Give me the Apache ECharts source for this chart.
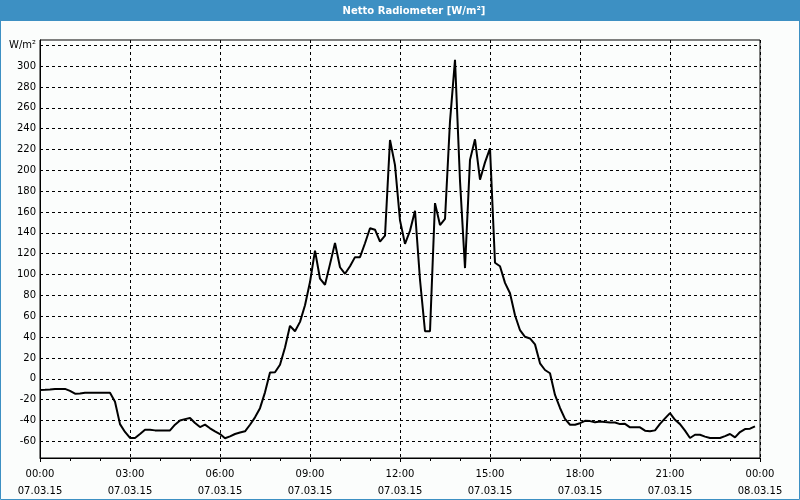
<!DOCTYPE html>
<html>
<head>
<meta charset="utf-8">
<script src="https://cdn.jsdelivr.net/npm/echarts@6/dist/echarts.min.js"></script>
<style>
  html, body { margin: 0; padding: 0; background: #fbfdfc; }
  #chart { width: 800px; height: 500px; }
</style>
</head>
<body>
<div id="chart"></div>
<script>
// ---- data (10-minute samples starting 07.03.15 00:00) ----
const chartTitle = 'Netto Radiometer [W/m²]';
const yUnit = 'W/m²';
const sampleStepMinutes = 10;
const netRadiation = [
  -10.7, -10.5, -10.2, -9.7, -9.7, -9.7, -11.6, -14.3, -14.2, -13.5,
  -13.5, -13.5, -13.5, -13.5, -13.5, -22, -43.5, -51, -56.8, -56.8,
  -53, -49, -49, -49.5, -49.5, -49.5, -49.5, -44, -40, -38.7,
  -37.7, -42.5, -46.3, -44, -47.5, -50.5, -53, -57, -55.3, -53,
  -51.5, -50.4, -44.1, -37, -28.2, -13, 6, 6.2, 13.5, 30,
  50.8, 45.6, 54.6, 70.5, 92.8, 123, 96, 90.2, 110, 130.2,
  107, 100.7, 108, 116.7, 116.7, 130, 144.4, 143, 131.6, 137.3,
  229, 205, 152, 129.4, 142, 161.2, 95, 45.6, 45.6, 168.5,
  147.5, 153.3, 247, 306, 190, 106.2, 210, 229.7, 191, 207.6,
  221, 111.3, 108, 92, 82, 61, 46.6, 40.3, 38.7, 33,
  14.8, 8.4, 5.3, -15.5, -28, -38.5, -44.1, -44.1, -42.6, -40.3,
  -40.6, -41.8, -40.9, -41.5, -41.9, -41.9, -43.5, -43.2, -46.6, -46.6,
  -46.6, -49.8, -50.4, -49.5, -43.2, -38, -33, -39.4, -43.5, -49.8,
  -56.8, -53.7, -53.7, -55.5, -56.8, -56.8, -56.8, -55, -53, -56.2,
  -51.1, -48.2, -47.9, -45.6
];
const xTickMinutes = [0, 180, 360, 540, 720, 900, 1080, 1260, 1440];
const xTickTimes = ['00:00', '03:00', '06:00', '09:00', '12:00', '15:00', '18:00', '21:00', '00:00'];
const xTickDates = ['07.03.15', '07.03.15', '07.03.15', '07.03.15', '07.03.15', '07.03.15', '07.03.15', '07.03.15', '08.03.15'];
const yTickValues = [-60, -40, -20, 0, 20, 40, 60, 80, 100, 120, 140, 160, 180, 200, 220, 240, 260, 280, 300, 320];

const seriesData = netRadiation.map((v, i) => [i * sampleStepMinutes, v]);

const chart = echarts.init(document.getElementById('chart'), null, { renderer: 'canvas' });
const labelFont = '"DejaVu Sans", Tahoma, sans-serif';

chart.setOption({
  animation: false,
  backgroundColor: '#fbfdfc',
  graphic: [
    { type: 'rect', shape: { x: 0, y: 0, width: 800, height: 21 }, style: { fill: '#3d90c3' }, silent: true },
    { type: 'rect', shape: { x: 0.5, y: 0.5, width: 799, height: 499 }, style: { fill: null, stroke: '#3d90c3', lineWidth: 1 }, silent: true },
    { type: 'text', x: 414, y: 11, style: { text: chartTitle, fill: '#ffffff', font: 'bold 10px "DejaVu Sans", Tahoma, sans-serif', textAlign: 'center', textVerticalAlign: 'middle' }, silent: true }
  ],
  grid: {
    left: 40, right: 40, top: 40, bottom: 40,
    show: true, borderColor: '#000', borderWidth: 1, backgroundColor: 'transparent'
  },
  xAxis: {
    type: 'value',
    min: 0, max: 1440, interval: 180,
    axisLine: { show: true, onZero: false, lineStyle: { color: '#000', width: 1 } },
    axisTick: { show: true, length: 4, lineStyle: { color: '#000' } },
    minorTick: { show: true, splitNumber: 3, length: 3, lineStyle: { color: '#000' } },
    minorSplitLine: { show: false },
    splitLine: { show: true, lineStyle: { color: '#000', width: 1, type: [3, 3] } },
    axisLabel: {
      show: true, margin: 8, color: '#000', fontSize: 10, fontFamily: labelFont, lineHeight: 17,
      showMinLabel: true, showMaxLabel: true, hideOverlap: false,
      formatter: function (v) {
        const k = xTickMinutes.indexOf(v);
        return k < 0 ? '' : xTickTimes[k] + '\n' + xTickDates[k];
      }
    }
  },
  yAxis: {
    type: 'value',
    min: -76, max: 325,
    axisLine: { show: true, onZero: false, lineStyle: { color: '#000', width: 1 } },
    axisTick: { show: false, customValues: yTickValues },
    splitLine: { show: true, lineStyle: { color: '#000', width: 1, type: [3, 3] } },
    axisLabel: {
      show: true, margin: 4, color: '#000', fontSize: 10, fontFamily: labelFont,
      customValues: yTickValues,
      formatter: function (v) { return v === 320 ? yUnit : String(v); }
    }
  },
  series: [{
    type: 'line',
    data: seriesData,
    showSymbol: false,
    symbol: 'none',
    lineStyle: { color: '#000', width: 2 },
    clip: true
  }]
});
</script>
</body>
</html>
